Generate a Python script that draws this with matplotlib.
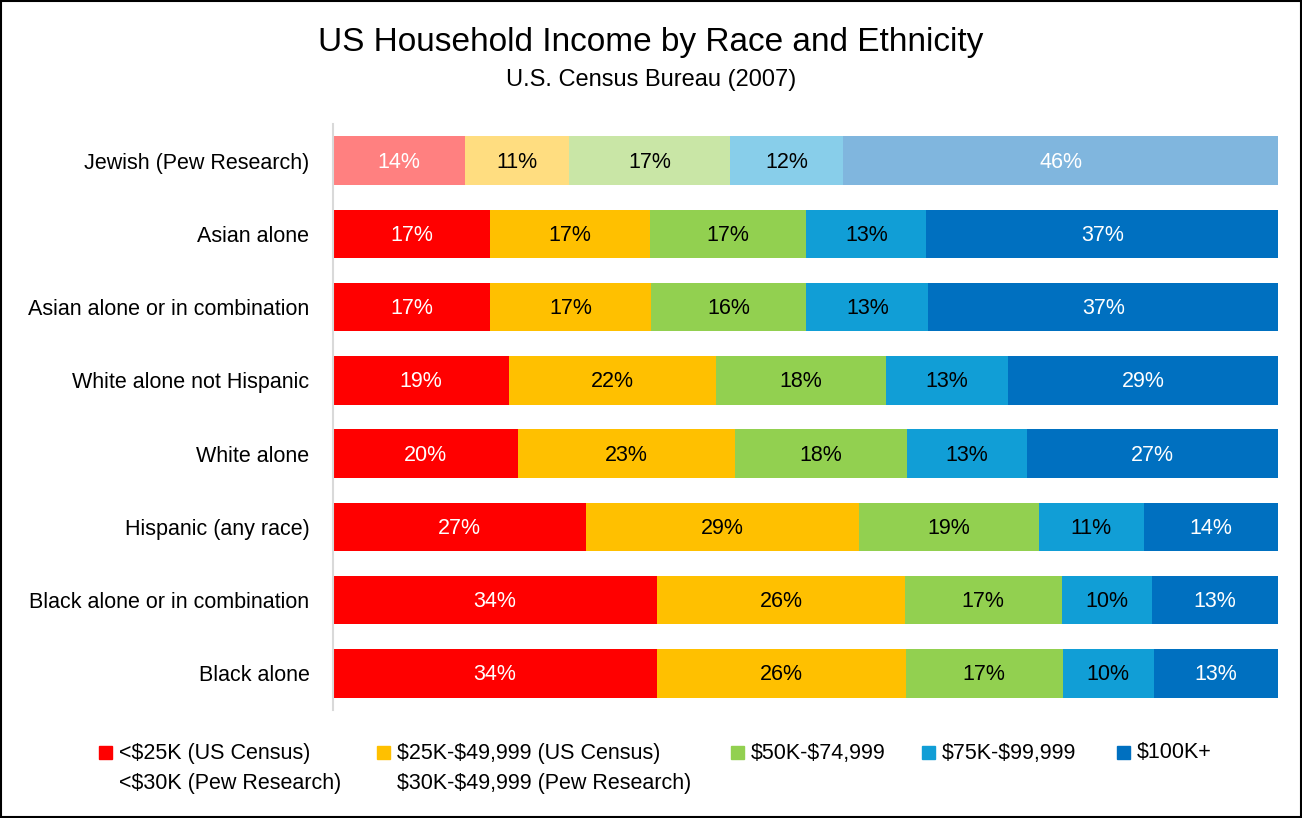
import numpy as np
import matplotlib.pyplot as plt
from matplotlib.patches import Rectangle

plt.rcParams['font.family'] = ['Liberation Sans', 'DejaVu Sans']

# rows from bottom to top
groups = ['Black alone', 'Black alone or in combination', 'Hispanic (any race)',
          'White alone', 'White alone not Hispanic', 'Asian alone or in combination',
          'Asian alone', 'Jewish (Pew Research)']

lt25 = [34.3, 34.3, 26.8, 19.6, 18.6, 16.6, 16.6, 14.0]
k25_50 = [26.3, 26.2, 28.9, 22.9, 21.9, 17.1, 16.9, 11.0]
k50_75 = [16.6, 16.6, 19.0, 18.2, 18.0, 16.4, 16.6, 17.0]
k75_100 = [9.7, 9.6, 11.1, 12.7, 12.9, 12.9, 12.7, 12.0]
k100 = [13.1, 13.3, 14.2, 26.6, 28.6, 37.0, 37.2, 46.0]

series = [lt25, k25_50, k50_75, k75_100, k100]
legend_labels = ['<$25K (US Census)\n<$30K (Pew Research)',
                 '$25K-$49,999 (US Census)\n$30K-$49,999 (Pew Research)',
                 '$50K-$74,999', '$75K-$99,999', '$100K+']

colors = ['#FF0000', '#FFC000', '#92D050', '#119ED6', '#0070C0']
light_colors = ['#FF8080', '#FFDD80', '#C9E6A6', '#88CEEA', '#80B6DE']
text_colors = ['white', 'black', 'black', 'black', 'white']

fig = plt.figure(figsize=(13.02, 8.18), dpi=100)
W, H = 1302.0, 818.0
ax = fig.add_axes([333 / W, 1 - 710 / H, 945 / W, 586 / H])

y = np.arange(len(groups))
left = np.zeros(len(groups))
for i, vals in enumerate(series):
    vals = np.array(vals)
    cols = [colors[i]] * (len(groups) - 1) + [light_colors[i]]
    ax.barh(y, vals, left=left, height=0.66, color=cols, edgecolor='none')
    for yy, l, v in zip(y, left, vals):
        ax.text(l + v / 2, yy - 0.02, '%.0f%%' % v, ha='center', va='center',
                fontsize=15.5, color=text_colors[i])
    left += vals

ax.set_xlim(0, 100)
ax.set_ylim(-0.5, len(groups) - 0.5)
ax.set_yticks(y)
ax.set_yticklabels(groups, fontsize=15.5)
ax.tick_params(axis='y', length=0, pad=17)
ax.set_xticks([])
for s in ['top', 'right', 'bottom']:
    ax.spines[s].set_visible(False)
ax.spines['left'].set_color('#D9D9D9')
ax.spines['left'].set_linewidth(1.5)

fig.text(651 / W, 1 - 42 / H, 'US Household Income by Race and Ethnicity',
         ha='center', va='center', fontsize=24)
fig.text(651 / W, 1 - 80 / H, 'U.S. Census Bureau (2007)',
         ha='center', va='center', fontsize=17)

# legend drawn by hand, one text per line
leg_x = [99, 377, 731, 922, 1117]
for lx, lab, c in zip(leg_x, legend_labels, colors):
    fig.patches.append(Rectangle((lx / W, 1 - 759 / H), 13 / W, 13 / H,
                                 color=c, transform=fig.transFigure))
    for k, line in enumerate(lab.split('\n')):
        fig.text((lx + 20) / W, 1 - (753 + 30 * k) / H, line.replace('$', r'\$'),
                 ha='left', va='center', fontsize=15.5)

fig.patches.append(Rectangle((0.0008, 0.0012), 0.9984, 0.9976, fill=False,
                             edgecolor='black', linewidth=1.5,
                             transform=fig.transFigure))

plt.savefig('out.png', dpi=100)
